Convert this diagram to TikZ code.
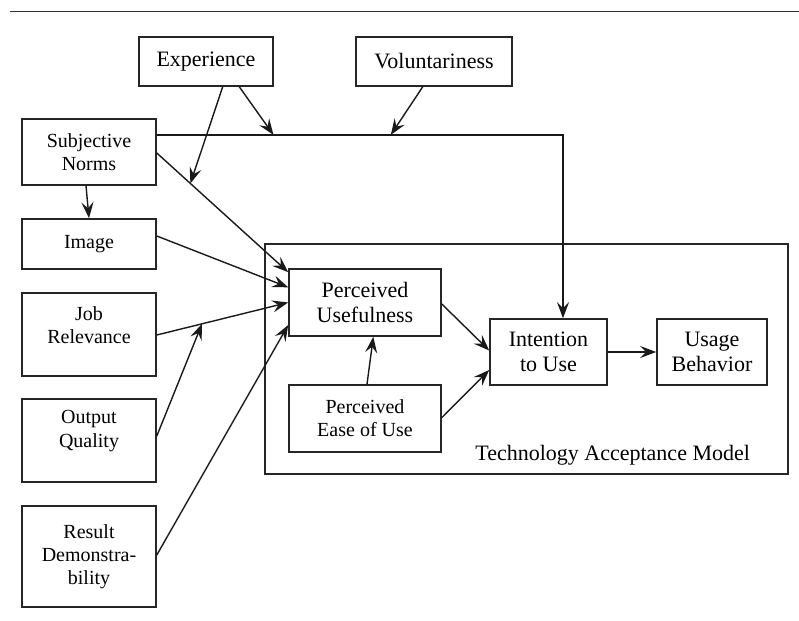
\documentclass[tikz,border=0pt]{standalone}
\usepackage{fontspec}
\setmainfont{Liberation Serif}
\usetikzlibrary{arrows.meta,calc}
\begin{document}
\begin{tikzpicture}[x=0.5pt,y=-0.5pt,
  box/.style={draw=black!85,line width=0.8pt,align=center,inner sep=0pt},
  big/.style={font=\fontsize{11}{12.5}\selectfont},
  small/.style={font=\fontsize{10}{11.6}\selectfont},
  arr/.style={draw=black!90,line width=0.7pt,-{Stealth[length=8pt,width=6pt,inset=3pt]}},
  rule/.style={draw=black!80,line width=0.6pt}]
\useasboundingbox (0,0) rectangle (799,621);
\draw[rule] (10,11.3) -- (799,11.3);

% boxes
\node[box,big,minimum width=67pt,minimum height=24.5pt] (exp) at (206,61.5) {Experience};
\node[box,big,minimum width=78pt,minimum height=24.5pt] (vol) at (434,61.5) {Voluntariness};
\node[box,small,minimum width=67pt,minimum height=33pt] (sn) at (89,152) {Subjective\\Norms};
\node[box,small,minimum width=67pt,minimum height=25pt] (img) at (89,244) {Image};
\node[box,minimum width=67pt,minimum height=41.5pt] (jr) at (89,334.5) {};
\node[small,align=center] (jrt) at ($(jr.center)+(0,-9.5)$) {Job\\Relevance};
\node[box,minimum width=67pt,minimum height=41.5pt] (oq) at (89,440.5) {};
\node[small,align=center] (oqt) at ($(oq.center)+(0,-9.5)$) {Output\\Quality};
\node[box,small,minimum width=67pt,minimum height=50.5pt] (rd) at (89,556.5) {Result\\Demonstra-\\bility};

\node[box,minimum width=261.5pt,minimum height=115pt] (tam) at (526.5,359) {};
\node[big,anchor=base east] (tamlbl) at (757,460.7) {Technology Acceptance Model};
\node[box,big,minimum width=76pt,minimum height=33.5pt] (pu) at (365,302.5) {Perceived\\Usefulness};
\node[box,small,minimum width=76pt,minimum height=33.5pt] (peou) at (365,418.5) {Perceived\\Ease of Use};
\node[box,big,minimum width=58.5pt,minimum height=33pt] (itu) at (548.5,352) {Intention\\to Use};
\node[box,big,minimum width=55pt,minimum height=33pt] (ub) at (712,352) {Usage\\Behavior};

% helper coordinates
\coordinate (s1) at ($(sn.east)+(0,1)$);
\coordinate (p1) at ($(pu.north west)+(0,4)$);
\coordinate (m1) at ($(s1)!0.2556!(p1)$);
\coordinate (h0) at ($(sn.north east)+(0,16.7)$);
\coordinate (m2) at ($(h0)+(116.7,0)$);
\coordinate (m3) at ($(h0)+(234,0)$);
\coordinate (j1) at ($(jr.east)+(0,0.5)$);
\coordinate (m4) at ($(j1)!0.344!(pu.west)$);

% connectors
\draw[arr] (s1) -- (p1);
\draw[arr] ($(exp.south)+(16.7,0)$) -- (m1);
\draw[arr] (h0) -| ($(itu.north)+(14.5,0)$);
\draw[arr] ($(exp.south)+(33.3,0)$) -- (m2);
\draw[arr] ($(vol.south)+(-11.3,0)$) -- (m3);
\draw[arr] ($(sn.south)+(-3,0)$) -- (img.north);
\draw[arr] ($(img.east)+(0,-8)$) -- ($(pu.west)+(0,-15.2)$);
\draw[arr] (j1) -- (pu.west);
\draw[arr] ($(oq.east)+(0,-4.5)$) -- (m4);
\draw[arr] ($(rd.east)+(0,-1.5)$) -- ($(pu.west)+(0,22.5)$);
\draw[arr] ($(pu.east)+(0,1.5)$) -- ($(itu.west)+(0,-1.5)$);
\draw[arr] ($(peou.east)+(0,-0.8)$) -- ($(itu.west)+(0,18)$);
\draw[arr] (itu.east) -- (ub.west);
\draw[arr] ($(peou.north)+(2,0)$) -- ($(pu.south)+(8.3,0)$);
\end{tikzpicture}
\end{document}
